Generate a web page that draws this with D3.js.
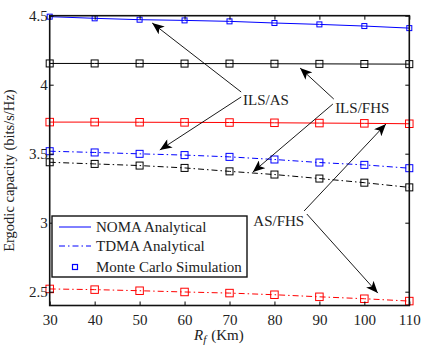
<!DOCTYPE html>
<html>
<head>
<meta charset="utf-8">
<script src="https://cdn.jsdelivr.net/npm/d3@7"></script>
<style>
  body { margin: 0; background: #fff; }
  text { font-family: "Liberation Serif", "Times New Roman", serif; fill: #222; }
</style>
</head>
<body>
<svg id="chart" width="422" height="346"></svg>
<script>
// distance values (Km)
var distances = [30, 40, 50, 60, 70, 80, 90, 100, 110];
var yTicks = [2.5, 3, 3.5, 4, 4.5];

// NOMA analytical (solid) curves
var nomaILSAS  = [4.493, 4.481, 4.471, 4.466, 4.459, 4.447, 4.437, 4.425, 4.410];
var nomaILSFHS = [4.154, 4.154, 4.154, 4.153, 4.153, 4.152, 4.151, 4.150, 4.149];
var nomaASFHS  = [3.729, 3.729, 3.728, 3.727, 3.726, 3.724, 3.722, 3.720, 3.717];

// TDMA analytical (dash-dot) curves
var tdmaILSAS  = [3.518, 3.509, 3.499, 3.490, 3.477, 3.458, 3.436, 3.419, 3.395];
var tdmaILSFHS = [3.438, 3.426, 3.414, 3.397, 3.372, 3.349, 3.320, 3.290, 3.256];
var tdmaASFHS  = [2.520, 2.515, 2.507, 2.498, 2.490, 2.478, 2.463, 2.449, 2.432];

var series = [
    { values: nomaILSAS,  color: '#0000ff', dash: null, marker: 5 },
    { values: nomaILSFHS, color: '#000000', dash: null, marker: 7 },
    { values: nomaASFHS,  color: '#ff0000', dash: null, marker: 7.5 },
    { values: tdmaILSAS,  color: '#0000ff', dash: '6,3,1.5,3', marker: 7 },
    { values: tdmaILSFHS, color: '#000000', dash: '6,3,1.5,3', marker: 7 },
    { values: tdmaASFHS,  color: '#ff0000', dash: '6,3,1.5,3', marker: 7.5 }
];

// annotation labels and arrows (data coordinates)
var annotations = [
    { label: 'ILS/AS', at: [73.0, 3.853],
      arrows: [[[72.6, 3.947], [52.8, 4.447]], [[72.6, 3.911], [54.5, 3.527]]] },
    { label: 'ILS/FHS', at: [93.5, 3.795],
      arrows: [[[93.2, 3.896], [85.7, 4.121]], [[93.0, 3.860], [75.2, 3.367]]] },
    { label: 'AS/FHS', at: [75.3, 2.976],
      arrows: [[[86.6, 3.085], [104.8, 3.715]], [[87.2, 3.063], [103.0, 2.490]]] }
];

var legendItems = ['NOMA Analytical', 'TDMA Analytical', 'Monte Carlo Simulation'];

var svg = d3.select('#chart');
var box = { l: 49.7, r: 409.3, t: 15.7, b: 305.5 };

var x = d3.scaleLinear().domain([30, 110]).range([box.l, box.r]);
var y = d3.scaleLinear().domain([2.4, 4.5]).range([box.b, box.t]);

var defs = svg.append('defs');
defs.append('marker')
    .attr('id', 'arrow')
    .attr('viewBox', '0 0 12 10')
    .attr('refX', 12).attr('refY', 5)
    .attr('markerWidth', 13).attr('markerHeight', 10)
    .attr('markerUnits', 'userSpaceOnUse')
    .attr('orient', 'auto')
    .append('path')
    .attr('d', 'M0,0 L12,5 L0,10 L3,5 Z')
    .attr('fill', '#000');

// curves
var line = d3.line()
    .x((d, i) => x(distances[i]))
    .y(d => y(d));

var plot = svg.append('g');

series.forEach(function (s) {
    plot.append('path')
        .datum(s.values)
        .attr('d', line)
        .attr('fill', 'none')
        .attr('stroke', s.color)
        .attr('stroke-width', 1)
        .attr('stroke-dasharray', s.dash);

    plot.selectAll(null)
        .data(s.values)
        .enter()
        .append('rect')
        .attr('x', (d, i) => x(distances[i]) - s.marker / 2)
        .attr('y', d => y(d) - s.marker / 2)
        .attr('width', s.marker)
        .attr('height', s.marker)
        .attr('fill', 'none')
        .attr('stroke', s.color)
        .attr('stroke-width', 1);
});

// axes box with inward ticks on all sides
var axisG = svg.append('g');

axisG.append('g')
    .attr('transform', `translate(0, ${box.b})`)
    .call(d3.axisBottom(x).tickValues(distances).tickSize(-4).tickPadding(9).tickFormat(d3.format('d')))
    .call(g => g.select('.domain').remove());

axisG.append('g')
    .attr('transform', `translate(0, ${box.t})`)
    .call(d3.axisTop(x).tickValues(distances).tickSize(-4).tickFormat(''))
    .call(g => g.select('.domain').remove());

axisG.append('g')
    .attr('transform', `translate(${box.l}, 0)`)
    .call(d3.axisLeft(y).tickValues(yTicks).tickSize(-4).tickPadding(2).tickFormat(d3.format('')))
    .call(g => g.select('.domain').remove());

axisG.append('g')
    .attr('transform', `translate(${box.r}, 0)`)
    .call(d3.axisRight(y).tickValues(yTicks).tickSize(-4).tickFormat(''))
    .call(g => g.select('.domain').remove());

axisG.selectAll('.tick line').attr('stroke', '#000').attr('stroke-width', 1);
axisG.selectAll('.tick text')
    .style('font-family', '"Liberation Serif", serif')
    .style('font-size', '15px')
    .attr('fill', '#222');

axisG.append('rect')
    .attr('x', box.l).attr('y', box.t)
    .attr('width', box.r - box.l).attr('height', box.b - box.t)
    .attr('fill', 'none')
    .attr('stroke', '#111')
    .attr('stroke-width', 1.6);

// axis titles
var xt = svg.append('text')
    .attr('x', 194).attr('y', 340)
    .style('font-size', '15px');
xt.append('tspan').attr('font-style', 'italic').text('R');
xt.append('tspan').attr('font-style', 'italic').attr('font-size', '11px').attr('dy', 3).text('f');
xt.append('tspan').attr('dy', -3).attr('dx', 5).text('(Km)');

svg.append('text')
    .attr('transform', `translate(14, ${(box.t + box.b) / 2 + 10}) rotate(-90)`)
    .attr('text-anchor', 'middle')
    .style('font-size', '14.5px')
    .text('Ergodic capacity (bits/s/Hz)');

// annotations
annotations.forEach(function (a) {
    a.arrows.forEach(function (ar) {
        svg.append('line')
            .attr('x1', x(ar[0][0])).attr('y1', y(ar[0][1]))
            .attr('x2', x(ar[1][0])).attr('y2', y(ar[1][1]))
            .attr('stroke', '#000')
            .attr('stroke-width', 0.9)
            .attr('marker-end', 'url(#arrow)');
    });
    svg.append('text')
        .attr('x', x(a.at[0])).attr('y', y(a.at[1]))
        .style('font-size', '15px')
        .text(a.label);
});

// legend
var lg = svg.append('g').attr('transform', 'translate(52, 216)');
lg.append('rect')
    .attr('width', 195).attr('height', 61)
    .attr('fill', '#fff')
    .attr('stroke', '#111')
    .attr('stroke-width', 1.4);

var legendY = [11, 30, 51];
legendItems.forEach(function (name, i) {
    var row = lg.append('g').attr('transform', `translate(0, ${legendY[i]})`);
    if (i === 0) {
        row.append('line').attr('x1', 7).attr('x2', 39)
            .attr('stroke', '#0000ff').attr('stroke-width', 1);
    } else if (i === 1) {
        row.append('line').attr('x1', 7).attr('x2', 39)
            .attr('stroke', '#0000ff').attr('stroke-width', 1)
            .attr('stroke-dasharray', '6,3,1.5,3');
    } else {
        row.append('rect').attr('x', 20.5).attr('y', -2.5)
            .attr('width', 5).attr('height', 5)
            .attr('fill', 'none').attr('stroke', '#0000ff').attr('stroke-width', 1.2);
    }
    row.append('text')
        .attr('x', 44).attr('y', 5)
        .style('font-size', '15px')
        .text(name);
});
</script>
</body>
</html>
